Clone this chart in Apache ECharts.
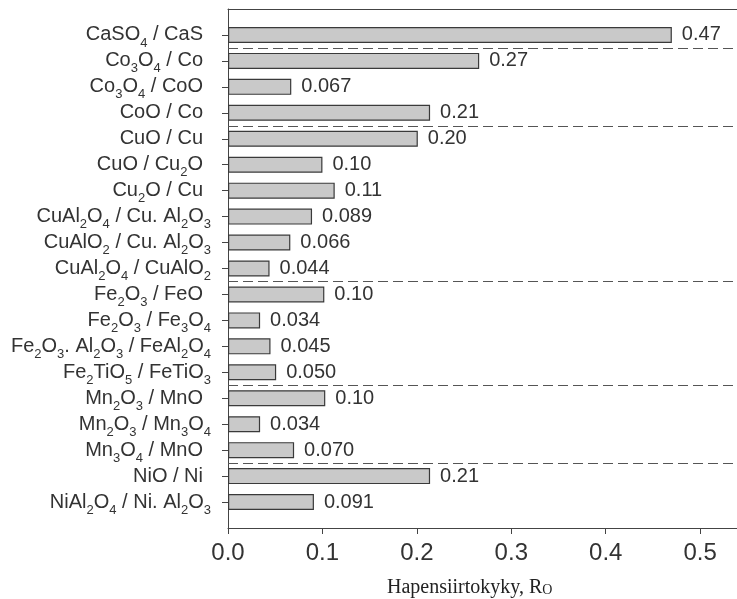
<!DOCTYPE html>
<html><head><meta charset="utf-8">
<script src="https://cdn.jsdelivr.net/npm/echarts@6.0.0/dist/echarts.min.js"></script>
<style>html,body{margin:0;padding:0;background:#fff}#c{width:737px;height:599px}</style>
</head><body><div id="c"></div>
<script>
// categories, top to bottom ("_n" marks a subscript number)
const categories = [
  'CaSO_4 / CaS',
  'Co_3O_4 / Co',
  'Co_3O_4 / CoO',
  'CoO / Co',
  'CuO / Cu',
  'CuO / Cu_2O',
  'Cu_2O / Cu',
  'CuAl_2O_4 / Cu. Al_2O_3',
  'CuAlO_2 / Cu. Al_2O_3',
  'CuAl_2O_4 / CuAlO_2',
  'Fe_2O_3 / FeO',
  'Fe_2O_3 / Fe_3O_4',
  'Fe_2O_3. Al_2O_3 / FeAl_2O_4',
  'Fe_2TiO_5 / FeTiO_3',
  'Mn_2O_3 / MnO',
  'Mn_2O_3 / Mn_3O_4',
  'Mn_3O_4 / MnO',
  'NiO / Ni',
  'NiAl_2O_4 / Ni. Al_2O_3'
];
const values = [0.47, 0.266, 0.067, 0.214, 0.201, 0.100, 0.113, 0.089, 0.066, 0.044,
                0.102, 0.034, 0.045, 0.051, 0.103, 0.034, 0.070, 0.214, 0.091];
const valueLabels = ['0.47','0.27','0.067','0.21','0.20','0.10','0.11','0.089','0.066','0.044',
                     '0.10','0.034','0.045','0.050','0.10','0.034','0.070','0.21','0.091'];
const groupSizes = [1, 3, 6, 4, 3, 2];
const xTicks = [0, 0.1, 0.2, 0.3, 0.4, 0.5];
const xMax = 0.539;
const xTitle = 'Hapensiirtokyky, R';
const xTitleSub = 'O';

const padded = [''].concat(categories, ['']);
const sepValues = [];
let acc = 0;
for (let g = 0; g < groupSizes.length - 1; g++) { acc += groupSizes[g]; sepValues.push(acc + 0.5); }

function toRich(s) {
  if (!s) return '';
  let out = '', last = 0, m;
  const re = /_(\d+)/g;
  let endsSub = false;
  while ((m = re.exec(s)) !== null) {
    if (m.index > last) out += '{n|' + s.slice(last, m.index) + '}';
    out += '{s|' + m[1] + '}';
    last = re.lastIndex;
  }
  if (last < s.length) out += '{n|' + s.slice(last) + '}';
  else endsSub = true;
  if (!endsSub) out += '{p| }';
  return out;
}

const font = 'Liberation Sans, Arial, sans-serif';
const chart = echarts.init(document.getElementById('c'), null, {renderer: 'canvas'});
chart.setOption({
  animation: false,
  backgroundColor: '#fff',
  title: {
    text: xTitle + '{o|' + xTitleSub + '}',
    left: 382, top: 573,
    textStyle: {
      fontFamily: 'Liberation Serif, Times New Roman, serif', fontSize: 20, fontWeight: 'normal', color: '#222',
      rich: { o: { fontFamily: 'Liberation Serif, Times New Roman, serif', fontSize: 14, color: '#222', padding: [4, 0, 0, 0] } }
    }
  },
  grid: { left: 228, top: 9, right: 0, bottom: 71 },
  xAxis: [
    {
      type: 'value', min: 0, max: xMax, position: 'bottom',
      axisLine: { show: true, onZero: false, lineStyle: { color: '#444', width: 1 } },
      axisTick: { show: true, length: 6, customValues: xTicks, lineStyle: { color: '#444' } },
      axisLabel: { customValues: xTicks, formatter: v => v.toFixed(1), fontSize: 24, color: '#333', margin: 13, fontFamily: font },
      splitLine: { show: false }
    },
    {
      type: 'value', min: 0, max: xMax, position: 'top',
      axisLine: { show: true, onZero: false, lineStyle: { color: '#444', width: 1 } },
      axisTick: { show: false }, axisLabel: { show: false }, splitLine: { show: false }
    }
  ],
  yAxis: [
    {
      type: 'category', data: padded, inverse: true, boundaryGap: false,
      axisLine: { show: true, onZero: false, lineStyle: { color: '#444', width: 1 } },
      axisTick: { show: true, length: 6, interval: (i, v) => v !== '', lineStyle: { color: '#444' } },
      axisLabel: {
        interval: 0, margin: 17, formatter: toRich,
        rich: {
          n: { fontSize: 20, fontFamily: font, color: '#333', verticalAlign: 'middle' },
          s: { fontSize: 13, fontFamily: font, color: '#333', verticalAlign: 'middle', padding: [16, 0, 0, 0] },
          p: { fontSize: 13, fontFamily: font, width: 8 }
        }
      },
      splitLine: { show: false }
    },
    { type: 'value', min: 0, max: padded.length - 1, inverse: true, show: false }
  ],
  series: [
    {
      type: 'bar', xAxisIndex: 0, yAxisIndex: 0,
      data: categories.map((c, i) => [values[i], c]),
      barWidth: 16,
      itemStyle: { color: '#c9c9c9', borderColor: '#3a3a3a', borderWidth: 1.2 },
      label: {
        show: true, position: 'right', distance: 10,
        formatter: p => valueLabels[p.dataIndex],
        fontSize: 20, color: '#333', fontFamily: font
      }
    },
    {
      type: 'line', xAxisIndex: 0, yAxisIndex: 1, data: [],
      markLine: {
        silent: true, symbol: ['none', 'none'], label: { show: false },
        lineStyle: { type: [10, 5], color: '#555', width: 1.2 },
        data: sepValues.map(v => ({ yAxis: v }))
      }
    }
  ]
});
</script>
</body></html>
